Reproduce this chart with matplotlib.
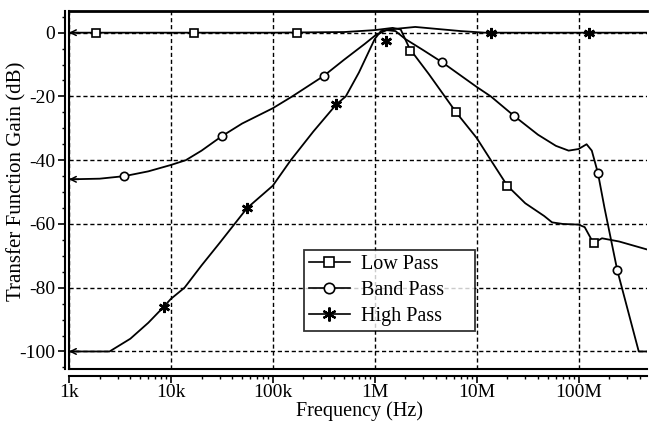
import matplotlib
matplotlib.use("Agg")
import matplotlib.pyplot as plt
from matplotlib.lines import Line2D
from matplotlib.ticker import FixedLocator, FixedFormatter, MultipleLocator, LogLocator, NullFormatter

plt.rcParams['font.family'] = ['Liberation Serif', 'DejaVu Serif']
plt.rcParams['axes.unicode_minus'] = False

# ---- data ----
lp_f = [1e3, 1e4, 1e5, 5e5, 1e6, 1.5e6, 1.8e6, 2.2e6, 3.4e6, 6.3e6, 1e7, 1.38e7, 2e7, 3e7,
        4.6e7, 5.5e7, 7e7, 1e8, 1.15e8, 1.4e8, 1.7e8, 2.5e8, 4.7e8]
lp_db = [0, 0, 0, 0.2, 0.8, 1.5, 1.0, -5.0, -13, -25, -33, -40, -48, -53.5,
         -57.5, -59.5, -60, -60.2, -61, -66, -64.5, -65.5, -68]
lp_mf = [1.84e3, 1.7e4, 1.74e5, 2.2e6, 6.3e6, 2.0e7, 1.41e8]
lp_mdb = [0, 0, 0, -5.9, -25, -48, -66]

bp_f = [1e3, 2e3, 3.5e3, 6e3, 1e4, 1.4e4, 2e4, 3.15e4, 5e4, 1e5, 1.55e5, 3.15e5, 5e5, 8e5,
        1e6, 1.3e6, 1.6e6, 2e6, 3e6, 4.6e6, 1e7, 1.38e7, 2.35e7, 4e7, 6e7, 8e7, 1e8, 1.2e8,
        1.35e8, 1.55e8, 1.8e8, 2.4e8, 3.9e8, 4.7e8]
bp_db = [-46, -45.8, -45, -43.5, -41.5, -40, -37, -32.5, -28.5, -23.7, -20, -13.6, -8.5, -3.5,
         -1, 0.8, 0.5, -2, -5.5, -9.3, -17, -20, -26.2, -32, -35.5, -37, -36.5, -35,
         -37, -44, -55, -74.5, -100, -100]
bp_mf = [3.5e3, 3.15e4, 3.15e5, 4.6e6, 2.35e7, 1.55e8, 2.4e8]
bp_mdb = [-45, -32.5, -13.6, -9.3, -26.2, -44, -74.5]

hp_f = [1e3, 2.5e3, 4e3, 6e3, 8.5e3, 1e4, 1.36e4, 2e4, 3e4, 5.6e4, 1e5, 1.5e5, 2.5e5, 4.2e5,
        5.2e5, 7e5, 1e6, 1.15e6, 1.6e6, 2.5e6, 4e6, 7e6, 1.2e7, 1e8, 4.7e8]
hp_db = [-100, -100, -96, -91, -86, -83.5, -80, -73, -66, -55, -48, -40, -31, -22.5,
         -20, -12.5, -2, 0.5, 1.2, 1.8, 1.2, 0.5, 0, 0, 0]
hp_mf = [8.5e3, 5.6e4, 4.2e5, 1.3e6, 1.38e7, 1.26e8]
hp_mdb = [-86, -55, -22.5, -2.7, 0, 0]

xticks = [1e3, 1e4, 1e5, 1e6, 1e7, 1e8]
xticklabels = ['1k', '10k', '100k', '1M', '10M', '100M']
yticks = [0, -20, -40, -60, -80, -100]
labels = ['Low Pass', 'Band Pass', 'High Pass']

# ---- figure ----
fig = plt.figure(figsize=(6.49, 4.21), dpi=100)
ax = fig.add_axes([69/649, 52/421, 578/649, 358/421])

lw = 1.3
ax.semilogx(lp_f, lp_db, color='black', lw=lw, zorder=3)
ax.semilogx(bp_f, bp_db, color='black', lw=lw, zorder=3)
ax.semilogx(hp_f, hp_db, color='black', lw=lw, zorder=3)

ax.plot(lp_mf, lp_mdb, ls='none', marker='s', ms=6, mfc='white', mec='black', mew=1.2, zorder=4)
ax.plot(bp_mf, bp_mdb, ls='none', marker='o', ms=6, mfc='white', mec='black', mew=1.2, zorder=4)
ax.plot(hp_mf, hp_mdb, ls='none', marker=(6, 2, 0), ms=8, mec='black', mew=1.8, zorder=4)

# left-edge arrows at the start of each curve
for f, d in ((lp_f, lp_db), (bp_f, bp_db), (hp_f, hp_db)):
    ax.annotate('', xy=(f[0], d[0]), xytext=(f[0] * 1.25, d[0]),
                arrowprops=dict(arrowstyle='->', lw=1.1, color='black',
                                shrinkA=0, shrinkB=0), zorder=5)

ax.set_xlim(1e3, 4.7e8)
ax.set_ylim(-105.5, 6.8)

ax.xaxis.set_major_locator(FixedLocator(xticks))
ax.xaxis.set_major_formatter(FixedFormatter(xticklabels))
ax.xaxis.set_minor_locator(LogLocator(base=10, subs=range(2, 10), numticks=20))
ax.xaxis.set_minor_formatter(NullFormatter())
ax.yaxis.set_major_locator(FixedLocator(yticks))
ax.yaxis.set_minor_locator(MultipleLocator(5))

ax.grid(True, which='major', color='black', ls=(0, (3, 2)), lw=1.0)

ax.spines['right'].set_visible(False)
ax.spines['top'].set_linewidth(2.0)
ax.spines['left'].set_linewidth(1.5)
ax.spines['bottom'].set_linewidth(1.5)
ax.spines['bottom'].set_position(('outward', 5))
ax.spines['left'].set_position(('outward', 3))
# inner frame lines
ax.plot([0, 1], [0, 0], transform=ax.transAxes, color='black', lw=1.5, clip_on=False)
ax.plot([0, 0], [0, 1], transform=ax.transAxes, color='black', lw=1.5, clip_on=False)

ax.tick_params(axis='both', which='major', direction='out', length=5, width=1.2,
               labelsize=14, pad=2, colors='black')
ax.tick_params(axis='x', which='major', pad=1)
ax.tick_params(axis='both', which='minor', direction='out', length=2.5, width=1.0)

ax.set_xlabel('Frequency (Hz)', fontsize=14.5)
ax.xaxis.set_label_coords(0.503, -0.089)
ax.set_ylabel('Transfer Function Gain (dB)', fontsize=15)
ax.yaxis.set_label_coords(-0.074, 0.523)

handles = [
    Line2D([], [], color='black', lw=1.2, marker='s', ms=7.5, mfc='white', mec='black', mew=1.2),
    Line2D([], [], color='black', lw=1.2, marker='o', ms=7.5, mfc='white', mec='black', mew=1.2),
    Line2D([], [], color='black', lw=1.2, marker=(6, 2, 0), ms=10, mec='black', mew=1.6),
]
leg = ax.legend(handles, labels, loc='upper left',
                bbox_to_anchor=(0.407, 0.111, 0.296, 0.221), mode='expand',
                fontsize=14.5, frameon=True, fancybox=False, edgecolor='black',
                handlelength=2.0, handletextpad=0.55, borderpad=0.25, labelspacing=0.33,
                borderaxespad=0)
leg.get_frame().set_linewidth(1.3)
leg.set_zorder(10)

fig.savefig('out.png', dpi=100)
